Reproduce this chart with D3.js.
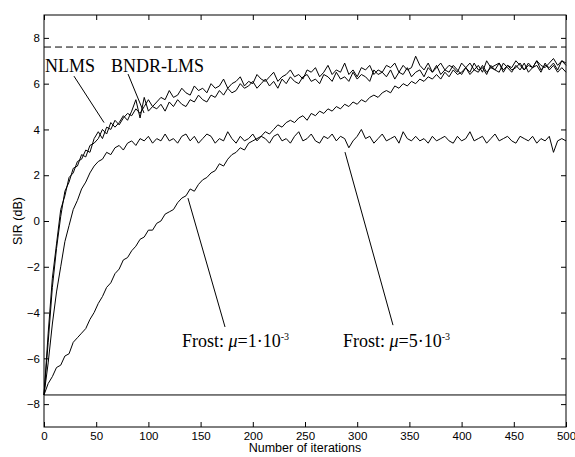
<!DOCTYPE html>
<html>
<head>
<meta charset="utf-8">
<script src="https://cdn.jsdelivr.net/npm/d3@7"></script>
<style>
    body { margin: 0; background: white; }
    svg { display: block; }
</style>
</head>
<body>
<svg id="chart"></svg>
<script>
// iterations sampled every 4 steps
const iterations = [0,4,8,12,16,20,24,28,32,36,40,44,48,52,56,60,64,68,72,76,80,84,88,92,96,100,
    104,108,112,116,120,124,128,132,136,140,144,148,152,156,160,164,168,172,176,180,184,188,192,196,200,
    204,208,212,216,220,224,228,232,236,240,244,248,252,256,260,264,268,272,276,280,284,288,292,296,300,
    304,308,312,316,320,324,328,332,336,340,344,348,352,356,360,364,368,372,376,380,384,388,392,396,400,
    404,408,412,416,420,424,428,432,436,440,444,448,452,456,460,464,468,472,476,480,484,488,492,496,500]

const nlms = [-7.6,-4.9,-2.5,-1.0,0.5,1.1,1.9,2.1,2.6,2.7,3.1,3.0,3.6,3.9,3.6,4.1,4.0,4.4,4.2,4.5,4.7,4.6,4.9,4.7,5.0,5.3,
    5.0,5.2,5.4,5.3,5.7,5.4,5.5,5.8,5.6,5.5,5.9,5.7,5.8,5.6,6.0,5.8,5.9,6.2,5.8,6.0,6.1,6.3,5.9,6.1,6.0,
    6.4,6.2,6.1,6.3,6.5,6.1,6.3,6.4,6.6,6.3,6.4,6.2,6.6,6.5,6.7,6.3,6.5,6.8,6.4,6.6,6.5,6.9,6.4,6.6,6.3,
    6.7,6.6,6.8,6.4,6.6,6.5,6.8,6.7,6.9,6.5,6.8,6.6,6.7,7.2,6.8,6.6,6.9,6.5,6.7,6.9,6.6,6.8,6.7,6.5,6.9,
    6.7,6.9,6.6,6.8,6.5,7.0,6.7,6.8,6.9,6.6,6.8,6.7,7.0,6.8,6.6,6.9,6.7,7.0,6.8,6.7,6.9,7.1,6.8,7.0,6.9]

const bndrLms = [-7.6,-5.3,-2.9,-1.2,0.2,1.3,1.7,2.3,2.4,2.9,2.8,3.3,3.4,3.6,4.0,3.8,4.3,4.1,4.3,4.6,4.4,4.8,5.3,4.5,5.4,4.8,
    5.0,4.9,5.1,4.8,5.2,5.0,5.3,5.1,5.0,5.3,5.2,5.5,5.3,5.2,5.5,5.4,5.7,5.5,5.8,5.6,5.7,6.0,5.8,5.9,6.1,
    5.8,6.0,6.2,5.9,6.1,5.8,6.2,6.0,6.3,6.1,6.0,6.3,6.4,6.1,6.2,6.0,6.4,6.3,6.1,6.5,6.2,6.3,6.1,6.5,6.2,
    6.4,6.3,6.1,6.6,6.4,6.5,6.3,6.6,6.2,6.5,6.4,6.7,6.3,6.5,6.6,6.3,6.7,6.5,6.8,6.4,6.6,6.5,6.8,6.6,6.4,
    6.7,6.5,6.9,6.6,6.7,6.4,6.8,6.6,6.5,6.9,6.7,6.5,6.8,6.6,6.9,6.5,6.7,6.8,6.5,6.9,6.6,6.8,6.5,6.7,6.5]

const frost5 = [-7.6,-6.2,-4.5,-3.1,-2.0,-0.9,-0.2,0.5,0.9,1.4,1.7,2.1,2.4,2.6,2.7,3.0,2.9,3.2,3.3,3.1,3.4,3.5,3.3,3.6,3.5,3.7,
    3.4,3.6,3.5,3.8,3.5,3.6,3.4,3.7,3.8,3.5,3.7,3.4,3.6,3.8,3.7,3.4,3.6,3.5,3.9,3.6,3.4,3.7,3.5,3.6,3.8,
    3.5,3.7,3.6,3.4,3.7,3.8,3.5,3.6,3.4,3.7,3.9,3.5,3.6,3.8,3.5,3.4,3.7,3.6,3.8,3.5,3.7,3.6,3.2,3.5,3.7,
    4.0,3.6,3.7,3.4,3.6,3.8,3.5,3.6,3.7,3.4,3.9,3.6,3.5,3.7,3.5,3.6,3.4,3.7,3.5,3.6,3.7,3.5,3.4,3.7,3.5,
    3.6,3.9,3.5,3.6,3.7,3.4,3.6,3.8,3.5,3.6,3.7,3.5,3.4,3.7,3.6,3.5,3.7,3.4,3.6,3.5,3.7,3.0,3.5,3.6,3.5]

const frost1 = [-7.6,-7.1,-6.8,-6.4,-6.3,-5.9,-5.8,-5.3,-5.1,-4.9,-4.7,-4.3,-4.0,-3.6,-3.3,-2.9,-2.7,-2.3,-2.1,-1.7,-1.6,-1.3,-1.1,-0.8,-0.7,-0.4,
    -0.4,-0.1,0.0,0.3,0.4,0.5,0.8,1.0,1.1,1.4,1.3,1.6,1.8,1.9,2.1,2.2,2.5,2.4,2.7,2.9,3.0,3.2,3.1,3.4,3.5,
    3.6,3.7,3.9,3.8,4.0,4.2,4.1,4.3,4.4,4.3,4.5,4.6,4.4,4.7,4.6,4.8,4.7,4.9,4.8,5.0,4.9,5.1,5.0,5.2,5.1,
    5.3,5.2,5.4,5.5,5.4,5.6,5.7,5.6,5.9,5.8,6.0,5.9,6.1,6.0,6.2,6.1,6.3,6.2,6.4,6.2,6.5,6.3,6.6,6.4,6.5,
    6.7,6.4,6.6,6.5,6.8,6.5,6.7,6.6,6.9,6.5,6.8,6.6,6.7,6.9,6.6,6.8,6.7,7.0,6.6,6.8,6.7,6.9,6.6,7.0,6.8]

const seriesList = [nlms, bndrLms, frost5, frost1]

// reference levels (dB)
const upperBound = 7.6
const lowerBound = -7.6

const xTicks = [0,50,100,150,200,250,300,350,400,450,500]
const yTicks = [-8,-6,-4,-2,0,2,4,6,8]

// labels with their pointer lines, in data units
const annotations = [
    {text: 'NLMS', x: 1, y: 6.52, from: [28.7, 6.33], to: [57.5, 4.30]},
    {text: 'BNDR-LMS', x: 64.2, y: 6.52, from: [80.5, 6.42], to: [95.8, 4.72]},
    {text: 'Frost: ', mu: '1', x: 132.2, y: -5.49, from: [137.9, 1.0], to: [173.4, -4.63]},
    {text: 'Frost: ', mu: '5', x: 286.4, y: -5.49, from: [288.3, 3.01], to: [334.3, -4.55]}
]

// setting up container
    const width = 575
    const height = 457
    const margin = {top: 15, right: 9, bottom: 30, left: 44}
    const svg = d3.select('#chart')
        .attr('width', width)
        .attr('height', height)

// set up scale
    const xScale = d3.scaleLinear()
        .domain([0, 500])
        .range([margin.left, width - margin.right])
    const yScale = d3.scaleLinear()
        .domain([-9, 9])
        .range([height - margin.bottom, margin.top])

// axes, ticks pointing inward
    const tickFont = '"Liberation Sans", Arial, sans-serif'
    const styleAxis = g => {
        g.select('.domain').remove()
        g.selectAll('line').attr('stroke', '#000')
        g.selectAll('text').attr('fill', '#000').style('font-family', tickFont).style('font-size', '11.5px')
    }
    svg.append('g')
        .attr('transform', `translate(0, ${yScale(-9)})`)
        .call(d3.axisBottom(xScale).tickValues(xTicks).tickSizeInner(-5).tickSizeOuter(0).tickPadding(5))
        .call(styleAxis)
    svg.append('g')
        .attr('transform', `translate(0, ${yScale(9)})`)
        .call(d3.axisTop(xScale).tickValues(xTicks).tickSizeInner(-5).tickSizeOuter(0).tickFormat(''))
        .call(styleAxis)
    svg.append('g')
        .attr('transform', `translate(${xScale(0)}, 0)`)
        .call(d3.axisLeft(yScale).tickValues(yTicks).tickSizeInner(-5).tickSizeOuter(0).tickPadding(4)
            .tickFormat(d => d < 0 ? '\u2212' + Math.abs(d) : d))
        .call(styleAxis)
    svg.append('g')
        .attr('transform', `translate(${xScale(500)}, 0)`)
        .call(d3.axisRight(yScale).tickValues(yTicks).tickSizeInner(-5).tickSizeOuter(0).tickFormat(''))
        .call(styleAxis)

// frame
    svg.append('rect')
        .attr('x', xScale(0))
        .attr('y', yScale(9))
        .attr('width', xScale(500) - xScale(0))
        .attr('height', yScale(-9) - yScale(9))
        .attr('fill', 'none')
        .attr('stroke', '#000')
        .attr('stroke-width', 1)

// axis titles
    svg.append('text')
        .attr('x', (xScale(0) + xScale(500)) / 2)
        .attr('y', 452)
        .attr('text-anchor', 'middle')
        .style('font-family', tickFont)
        .style('font-size', '12.5px')
        .text('Number of iterations')
    svg.append('text')
        .attr('transform', `translate(22, ${(yScale(9) + yScale(-9)) / 2}) rotate(-90)`)
        .attr('text-anchor', 'middle')
        .style('font-family', tickFont)
        .style('font-size', '12.5px')
        .text('SIR (dB)')

// bound lines
    svg.append('line')
        .attr('x1', xScale(0)).attr('x2', xScale(500))
        .attr('y1', yScale(upperBound)).attr('y2', yScale(upperBound))
        .attr('stroke', '#000')
        .attr('stroke-dasharray', '7,4')
    svg.append('line')
        .attr('x1', xScale(0)).attr('x2', xScale(500))
        .attr('y1', yScale(lowerBound)).attr('y2', yScale(lowerBound))
        .attr('stroke', '#000')

// curves
    const line = d3.line()
        .x((d, i) => xScale(iterations[i]))
        .y(d => yScale(d))
    svg.selectAll('.curve')
        .data(seriesList)
        .enter()
        .append('path')
            .attr('class', 'curve')
            .attr('d', line)
            .attr('fill', 'none')
            .attr('stroke', '#000')
            .attr('stroke-width', 1)
            .attr('stroke-linejoin', 'round')

// annotations
    const serif = '"Liberation Serif", "Times New Roman", serif'
    svg.selectAll('.pointer')
        .data(annotations)
        .enter()
        .append('line')
            .attr('class', 'pointer')
            .attr('x1', d => xScale(d.from[0]))
            .attr('y1', d => yScale(d.from[1]))
            .attr('x2', d => xScale(d.to[0]))
            .attr('y2', d => yScale(d.to[1]))
            .attr('stroke', '#000')
            .attr('stroke-width', 1)
    const labels = svg.selectAll('.label')
        .data(annotations)
        .enter()
        .append('text')
            .attr('class', 'label')
            .attr('x', d => xScale(d.x))
            .attr('y', d => yScale(d.y))
            .style('font-family', serif)
            .style('font-size', '18px')
    labels.append('tspan').text(d => d.text)
    labels.filter(d => d.mu).each(function(d) {
        const t = d3.select(this)
        t.append('tspan').style('font-style', 'italic').text('\u03bc')
        t.append('tspan').text('=' + d.mu + '\u00b710')
        t.append('tspan').attr('dy', -7).style('font-size', '10px').text('-3')
    })
</script>
</body>
</html>
